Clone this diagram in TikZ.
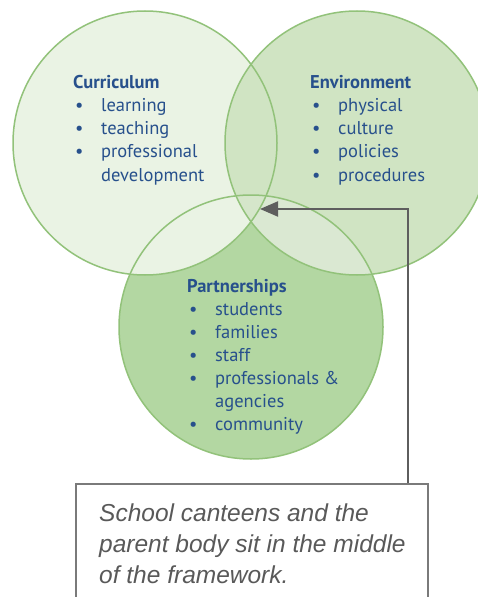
\documentclass[tikz,border=0pt]{standalone}
\usepackage{fontspec}
\usetikzlibrary{arrows.meta}
\newfontfamily\ptsans{PT Sans}
\newfontfamily\liber{Liberation Sans}
\definecolor{curfill}{HTML}{EAF3E4}
\definecolor{envfill}{HTML}{D0E4C3}
\definecolor{parfill}{HTML}{B3D7A2}
\definecolor{pefill}{HTML}{DAE8D2}
\definecolor{midfill}{HTML}{D5E6CA}
\definecolor{ringgreen}{HTML}{92C27A}
\definecolor{txtblue}{HTML}{27508C}
\definecolor{notegray}{HTML}{595959}
\definecolor{boxgray}{HTML}{7A7A7A}
\definecolor{arrowgray}{HTML}{5E5E5E}
\newcommand{\bul}{\makebox[28bp][l]{\hspace{2bp}\textbullet}}

\begin{document}
\begin{tikzpicture}[x=1bp,y=-1bp,
  ring/.style={draw=ringgreen, line width=1.5bp},
  lbl/.style={anchor=base west, inner sep=0pt, text=txtblue, font=\ptsans\fontsize{18.5bp}{23bp}\selectfont},
  notebox/.style={draw=boxgray, line width=1.5bp, anchor=north west, minimum width=352bp, minimum height=150bp, inner sep=0pt},
  notetext/.style={anchor=base west, inner sep=0pt, text=notegray, font=\liber\itshape\fontsize{24.5bp}{31bp}\selectfont},
  pointer/.style={draw=arrowgray, line width=2bp, -{Triangle[length=18bp,width=15bp]}}]
  \clip (0,0) rectangle (478,597);
  \coordinate (cur) at (145,143);
  \coordinate (env) at (357,143);
  \coordinate (par) at (251,327);
  \fill[parfill] (par) circle[radius=132];
  \fill[curfill] (cur) circle[radius=132];
  \fill[envfill] (env) circle[radius=132];
  \begin{scope}
    \clip (env) circle[radius=132];
    \fill[pefill] (par) circle[radius=132];
    \clip (cur) circle[radius=132];
    \fill[midfill] (par) circle[radius=132];
  \end{scope}
  \draw[ring] (cur) circle[radius=132];
  \draw[ring] (env) circle[radius=132];
  \draw[ring] (par) circle[radius=132];
  \node[lbl] (curtext) at (73,89) {\begin{tabular}[t]{@{}l@{}}
    \textbf{Curriculum}\\
    \bul learning\\
    \bul teaching\\
    \bul professional\\
    \hspace*{28bp}development
  \end{tabular}};
  \node[lbl] (envtext) at (310,89) {\begin{tabular}[t]{@{}l@{}}
    \textbf{Environment}\\
    \bul physical\\
    \bul culture\\
    \bul policies\\
    \bul procedures
  \end{tabular}};
  \node[lbl] (partext) at (187,292) {\begin{tabular}[t]{@{}l@{}}
    \textbf{Partnerships}\\
    \bul students\\
    \bul families\\
    \bul staff\\
    \bul professionals \&\\
    \hspace*{28bp}agencies\\
    \bul community
  \end{tabular}};
  \node[notebox] (note) at (75,483) {};
  \node[notetext] (notetxt) at (99,521) {\begin{tabular}[t]{@{}l@{}}
    School canteens and the\\
    parent body sit in the middle\\
    of the framework.
  \end{tabular}};
  \coordinate (mid) at (260,209);
  \draw[pointer] ([xshift=-21bp]note.north east) |- (mid);
\end{tikzpicture}
\end{document}
